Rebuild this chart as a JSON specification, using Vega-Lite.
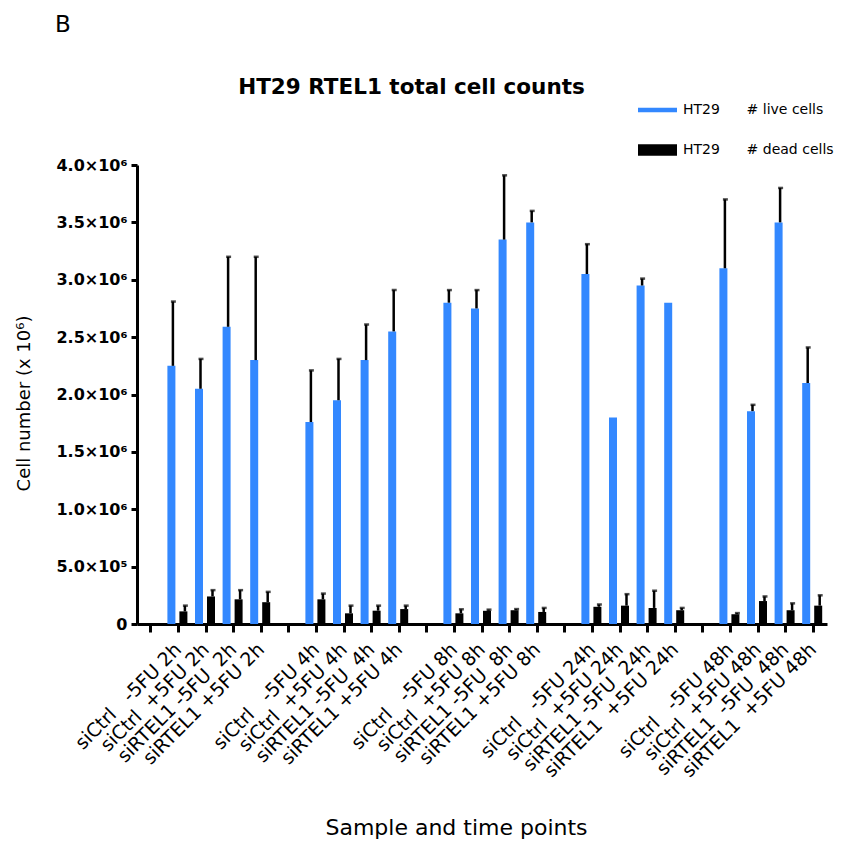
{
  "$schema": "https://vega.github.io/schema/vega-lite/v6.json",
  "width": 690,
  "height": 459,
  "autosize": {"type": "none"},
  "padding": {"left": 137, "top": 165, "right": 14, "bottom": 218},
  "background": "white",
  "config": {"view": {"stroke": null}, "font": "DejaVu Sans"},
  "title": {"text": "B", "anchor": "start", "frame": "group", "dx": -82, "offset": 21, "fontSize": 23, "fontWeight": "normal", "font": "DejaVu Sans", "color": "black", "baseline": "alphabetic"},
  "data": {"values": [
    {"sample": "siCtrl\u00a0\u00a0\u00a0-5FU 2h", "cells": "live", "count": 2250000, "upper": 2810000},
    {"sample": "siCtrl\u00a0\u00a0\u00a0-5FU 2h", "cells": "dead", "count": 110000, "upper": 160000},
    {"sample": "siCtrl\u00a0\u00a0+5FU 2h", "cells": "live", "count": 2050000, "upper": 2310000},
    {"sample": "siCtrl\u00a0\u00a0+5FU 2h", "cells": "dead", "count": 240000, "upper": 295000},
    {"sample": "siRTEL1 -5FU\u00a0\u00a02h", "cells": "live", "count": 2590000, "upper": 3200000},
    {"sample": "siRTEL1 -5FU\u00a0\u00a02h", "cells": "dead", "count": 215000, "upper": 295000},
    {"sample": "siRTEL1 +5FU 2h", "cells": "live", "count": 2300000, "upper": 3200000},
    {"sample": "siRTEL1 +5FU 2h", "cells": "dead", "count": 190000, "upper": 280000},
    {"sample": "siCtrl\u00a0\u00a0\u00a0-5FU 4h", "cells": "live", "count": 1760000, "upper": 2210000},
    {"sample": "siCtrl\u00a0\u00a0\u00a0-5FU 4h", "cells": "dead", "count": 215000, "upper": 265000},
    {"sample": "siCtrl\u00a0\u00a0+5FU 4h", "cells": "live", "count": 1950000, "upper": 2310000},
    {"sample": "siCtrl\u00a0\u00a0+5FU 4h", "cells": "dead", "count": 93000, "upper": 160000},
    {"sample": "siRTEL1 -5FU\u00a0\u00a04h", "cells": "live", "count": 2300000, "upper": 2610000},
    {"sample": "siRTEL1 -5FU\u00a0\u00a04h", "cells": "dead", "count": 116000, "upper": 160000},
    {"sample": "siRTEL1 +5FU 4h", "cells": "live", "count": 2550000, "upper": 2910000},
    {"sample": "siRTEL1 +5FU 4h", "cells": "dead", "count": 130000, "upper": 160000},
    {"sample": "siCtrl\u00a0\u00a0\u00a0-5FU 8h", "cells": "live", "count": 2800000, "upper": 2910000},
    {"sample": "siCtrl\u00a0\u00a0\u00a0-5FU 8h", "cells": "dead", "count": 93000, "upper": 128000},
    {"sample": "siCtrl\u00a0\u00a0+5FU 8h", "cells": "live", "count": 2750000, "upper": 2910000},
    {"sample": "siCtrl\u00a0\u00a0+5FU 8h", "cells": "dead", "count": 115000, "upper": 125000},
    {"sample": "siRTEL1 -5FU\u00a0\u00a08h", "cells": "live", "count": 3350000, "upper": 3910000},
    {"sample": "siRTEL1 -5FU\u00a0\u00a08h", "cells": "dead", "count": 120000, "upper": 130000},
    {"sample": "siRTEL1 +5FU 8h", "cells": "live", "count": 3500000, "upper": 3600000},
    {"sample": "siRTEL1 +5FU 8h", "cells": "dead", "count": 105000, "upper": 140000},
    {"sample": "siCtrl\u00a0\u00a0\u00a0-5FU 24h", "cells": "live", "count": 3050000, "upper": 3310000},
    {"sample": "siCtrl\u00a0\u00a0\u00a0-5FU 24h", "cells": "dead", "count": 150000, "upper": 170000},
    {"sample": "siCtrl\u00a0\u00a0+5FU 24h", "cells": "live", "count": 1800000, "upper": null},
    {"sample": "siCtrl\u00a0\u00a0+5FU 24h", "cells": "dead", "count": 160000, "upper": 260000},
    {"sample": "siRTEL1 -5FU\u00a0\u00a024h", "cells": "live", "count": 2950000, "upper": 3010000},
    {"sample": "siRTEL1 -5FU\u00a0\u00a024h", "cells": "dead", "count": 140000, "upper": 290000},
    {"sample": "siRTEL1\u00a0\u00a0+5FU 24h", "cells": "live", "count": 2800000, "upper": null},
    {"sample": "siRTEL1\u00a0\u00a0+5FU 24h", "cells": "dead", "count": 120000, "upper": 140000},
    {"sample": "siCtrl\u00a0\u00a0\u00a0-5FU 48h", "cells": "live", "count": 3100000, "upper": 3700000},
    {"sample": "siCtrl\u00a0\u00a0\u00a0-5FU 48h", "cells": "dead", "count": 85000, "upper": 95000},
    {"sample": "siCtrl\u00a0\u00a0+5FU 48h", "cells": "live", "count": 1855000, "upper": 1910000},
    {"sample": "siCtrl\u00a0\u00a0+5FU 48h", "cells": "dead", "count": 200000, "upper": 240000},
    {"sample": "siRTEL1\u00a0\u00a0-5FU\u00a0\u00a048h", "cells": "live", "count": 3500000, "upper": 3800000},
    {"sample": "siRTEL1\u00a0\u00a0-5FU\u00a0\u00a048h", "cells": "dead", "count": 120000, "upper": 180000},
    {"sample": "siRTEL1\u00a0\u00a0+5FU 48h", "cells": "live", "count": 2100000, "upper": 2410000},
    {"sample": "siRTEL1\u00a0\u00a0+5FU 48h", "cells": "dead", "count": 160000, "upper": 250000}
  ]},
  "resolve": {"axis": {"x": "independent"}},
  "layer": [
    {
      "transform": [{"filter": "datum.cells === 'live'"}],
      "mark": {"type": "bar", "width": 8, "xOffset": -7},
      "encoding": {
        "x": {
          "field": "sample", "type": "nominal", "sort": null,
          "scale": {
            "domain": [
              "gap0",
              "siCtrl\u00a0\u00a0\u00a0-5FU 2h", "siCtrl\u00a0\u00a0+5FU 2h", "siRTEL1 -5FU\u00a0\u00a02h", "siRTEL1 +5FU 2h",
              "gap1",
              "siCtrl\u00a0\u00a0\u00a0-5FU 4h", "siCtrl\u00a0\u00a0+5FU 4h", "siRTEL1 -5FU\u00a0\u00a04h", "siRTEL1 +5FU 4h",
              "gap2",
              "siCtrl\u00a0\u00a0\u00a0-5FU 8h", "siCtrl\u00a0\u00a0+5FU 8h", "siRTEL1 -5FU\u00a0\u00a08h", "siRTEL1 +5FU 8h",
              "gap3",
              "siCtrl\u00a0\u00a0\u00a0-5FU 24h", "siCtrl\u00a0\u00a0+5FU 24h", "siRTEL1 -5FU\u00a0\u00a024h", "siRTEL1\u00a0\u00a0+5FU 24h",
              "gap4",
              "siCtrl\u00a0\u00a0\u00a0-5FU 48h", "siCtrl\u00a0\u00a0+5FU 48h", "siRTEL1\u00a0\u00a0-5FU\u00a0\u00a048h", "siRTEL1\u00a0\u00a0+5FU 48h"
            ],
            "paddingInner": 0, "paddingOuter": 0
          },
          "axis": {
            "orient": "bottom",
            "title": "Sample and time points",
            "titleFont": "DejaVu Sans", "titleFontSize": 22, "titleFontWeight": "normal", "titleColor": "black",
            "titleX": 319, "titleY": 210, "titleAlign": "center", "titleBaseline": "alphabetic",
            "labelExpr": "indexof(datum.label, 'gap') === 0 ? '' : datum.label",
            "labelAngle": -45, "labelAlign": "right", "labelBaseline": "middle",
            "labelFont": "DejaVu Sans", "labelFontSize": 19, "labelColor": "black",
            "labelPadding": 14, "labelLimit": 400, "labelOverlap": false,
            "domainColor": "black", "domainWidth": 3,
            "tickColor": "black", "tickWidth": 3, "tickSize": 8,
            "grid": false
          }
        },
        "y": {
          "field": "count", "type": "quantitative",
          "scale": {"domain": [0, 4000000], "nice": false},
          "axis": {
            "values": [0, 500000, 1000000, 1500000, 2000000, 2500000, 3000000, 3500000, 4000000],
            "labelExpr": "datum.value === 0 ? '0' : datum.value === 500000 ? '5.0×10⁵' : format(datum.value / 1000000, '.1f') + '×10⁶'",
            "title": "Cell number (x 10⁶)",
            "titleFont": "DejaVu Sans", "titleFontSize": 18, "titleFontWeight": "normal", "titleColor": "black",
            "titleX": -113, "titleY": 238, "titleAngle": -90, "titleAlign": "center", "titleBaseline": "middle",
            "labelFont": "DejaVu Sans", "labelFontSize": 16, "labelFontWeight": "bold", "labelColor": "black",
            "labelPadding": 4,
            "domainColor": "black", "domainWidth": 3,
            "tickColor": "black", "tickWidth": 3, "tickSize": 6,
            "grid": false
          }
        },
        "color": {
          "field": "cells", "type": "nominal",
          "scale": {"domain": ["live", "dead"], "range": ["#3388ff", "#000000"]},
          "legend": {
            "orient": "none", "legendX": 501, "legendY": -74.5,
            "title": null, "padding": 0,
            "symbolType": "M-1,-0.11H1V0.11H-1Z", "symbolSize": 1521, "symbolStrokeWidth": 0,
            "labelFont": "DejaVu Sans", "labelFontSize": 14, "labelColor": "black",
            "labelOffset": 6, "rowPadding": 13, "labelLimit": 300,
            "labelExpr": "datum.value === 'live' ? 'HT29\u00a0\u00a0\u00a0\u00a0\u00a0\u00a0# live cells' : 'HT29\u00a0\u00a0\u00a0\u00a0\u00a0\u00a0# dead cells'",
            "encode": {"symbols": {"update": {"shape": {"signal": "datum.value === 'dead' ? 'M-1,-0.3H1V0.3H-1Z' : 'M-1,-0.11H1V0.11H-1Z'"}}}}
          }
        }
      }
    },
    {
      "transform": [{"filter": "datum.cells === 'dead'"}],
      "mark": {"type": "bar", "width": 8, "xOffset": 5},
      "encoding": {
        "x": {"field": "sample", "type": "nominal", "sort": null, "axis": null},
        "y": {"field": "count", "type": "quantitative"},
        "color": {"field": "cells", "type": "nominal"}
      }
    },
    {
      "transform": [{"filter": "datum.cells === 'live' && isValid(datum.upper)"}],
      "mark": {"type": "rule", "color": "black", "strokeWidth": 2.5, "xOffset": -5.5},
      "encoding": {
        "x": {
          "field": "sample", "type": "nominal", "sort": null,
          "axis": {
            "orient": "top",
            "title": "HT29 RTEL1 total cell counts",
            "titleFont": "DejaVu Sans", "titleFontSize": 21.5, "titleFontWeight": "bold", "titleColor": "black",
            "titleX": 274, "titleY": -72, "titleAlign": "center", "titleBaseline": "alphabetic",
            "labels": false, "ticks": false, "domain": false, "grid": false
          }
        },
        "y": {"field": "count", "type": "quantitative"},
        "y2": {"field": "upper"}
      }
    },
    {
      "transform": [{"filter": "datum.cells === 'live' && isValid(datum.upper)"}],
      "mark": {"type": "tick", "color": "black", "thickness": 2.5, "size": 5, "xOffset": -5},
      "encoding": {
        "x": {"field": "sample", "type": "nominal", "sort": null, "axis": null},
        "y": {"field": "upper", "type": "quantitative"}
      }
    },
    {
      "transform": [{"filter": "datum.cells === 'dead' && isValid(datum.upper)"}],
      "mark": {"type": "rule", "color": "black", "strokeWidth": 2.5, "xOffset": 6.5},
      "encoding": {
        "x": {"field": "sample", "type": "nominal", "sort": null, "axis": null},
        "y": {"field": "count", "type": "quantitative"},
        "y2": {"field": "upper"}
      }
    },
    {
      "transform": [{"filter": "datum.cells === 'dead' && isValid(datum.upper)"}],
      "mark": {"type": "tick", "color": "black", "thickness": 2.5, "size": 5, "xOffset": 7},
      "encoding": {
        "x": {"field": "sample", "type": "nominal", "sort": null, "axis": null},
        "y": {"field": "upper", "type": "quantitative"}
      }
    }
  ]
}
